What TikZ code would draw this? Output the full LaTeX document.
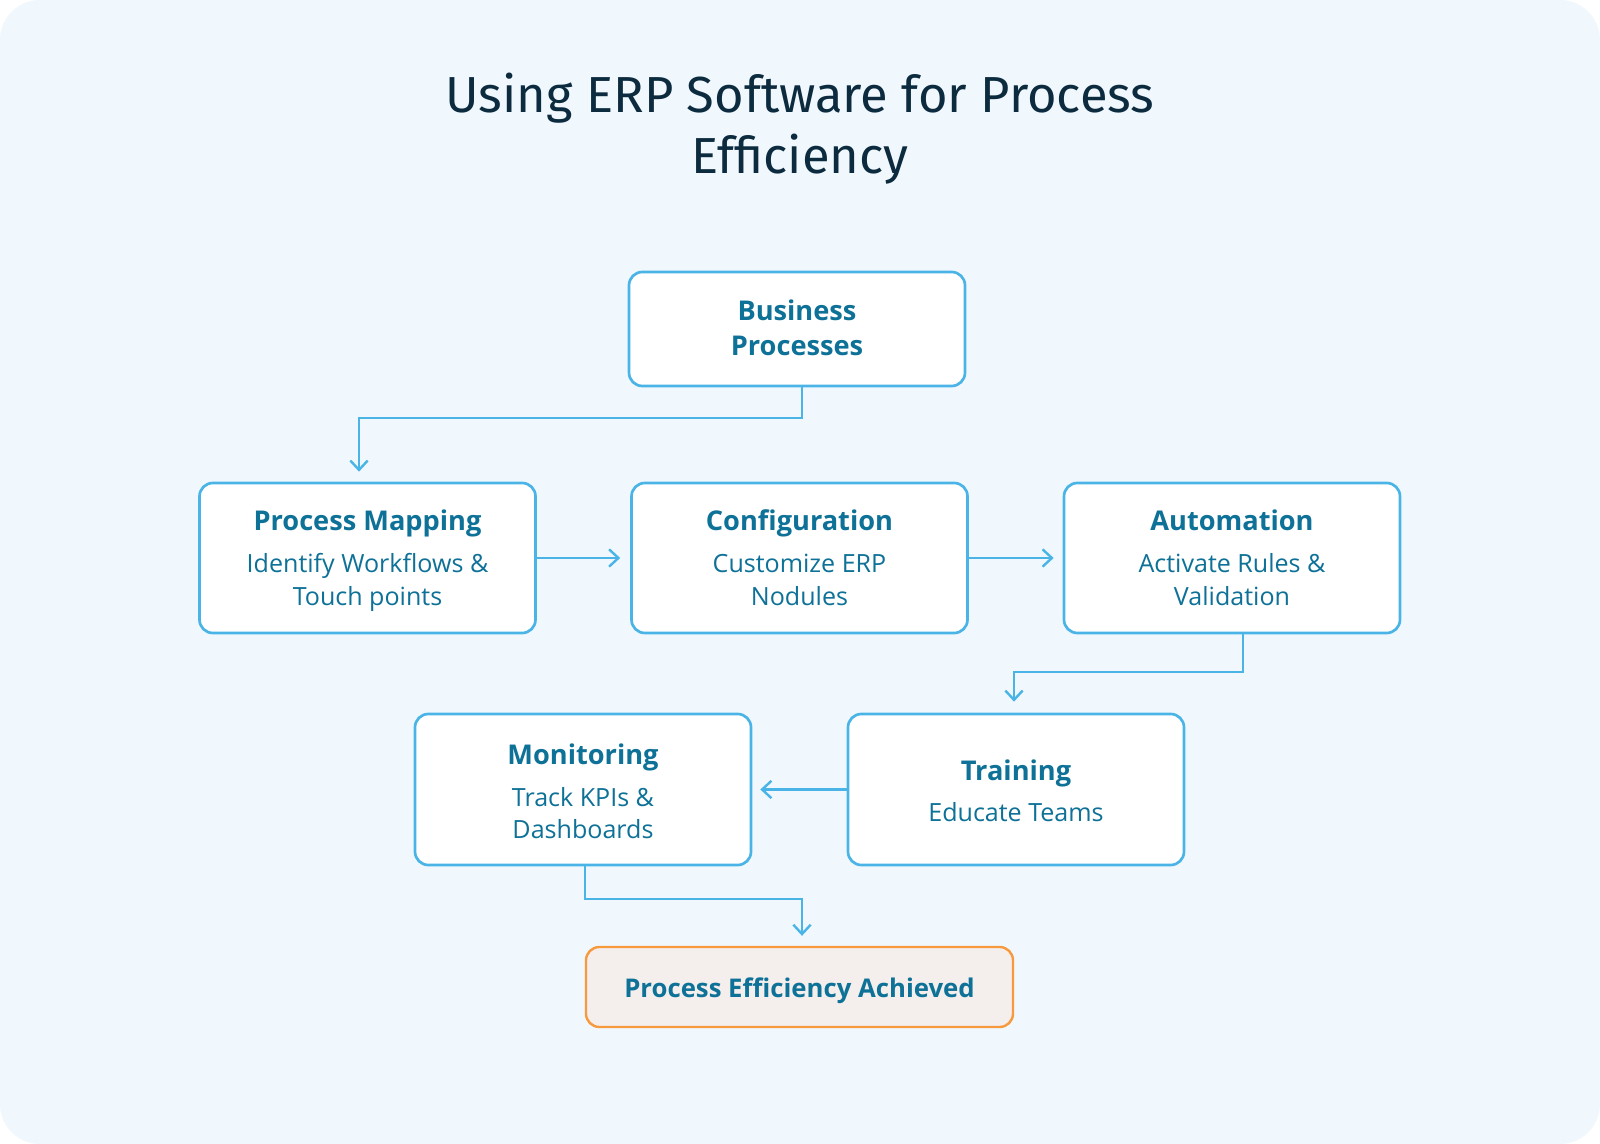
\documentclass[tikz,border=0pt]{standalone}
\usepackage{fontspec}
\setmainfont{Open Sans}
\newfontfamily\titlefont{Fira Sans}
\usetikzlibrary{arrows.meta}
\definecolor{bgc}{HTML}{F0F8FE}
\definecolor{titc}{HTML}{0D2B3E}
\definecolor{txtc}{HTML}{0E7197}
\definecolor{linec}{HTML}{4BB4E6}
\definecolor{finfill}{HTML}{F4EEEC}
\definecolor{finline}{HTML}{F79A3E}
\tikzset{
  boxshape/.style={draw=linec, line width=2pt, fill=white, rounded corners=10pt},
  finshape/.style={draw=finline, line width=1.8pt, fill=finfill, rounded corners=10pt},
  headtxt/.style={text=txtc, font=\fontsize{20.4}{24}\selectfont\bfseries, anchor=base, inner sep=0pt},
  bodytxt/.style={text=txtc, font=\fontsize{18.8}{23}\selectfont, anchor=base, inner sep=0pt},
  conn/.style={draw=linec, line width=1.8pt, -{Straight Barb[length=7pt,width=13pt,line width=1.8pt]}},
}
\begin{document}
\begin{tikzpicture}[x=0.75pt,y=-0.75pt]
\useasboundingbox (0,0) rectangle (1600,1144);
\fill[white] (0,0) rectangle (1600,1144);
\fill[bgc, rounded corners=30pt] (0,0) rectangle (1600,1144);
% title
\node[text=titc, font=\titlefont\fontsize{38}{46}\selectfont, anchor=base, inner sep=0pt] (t1) at (800,113) {Using ERP Software for Process};
\node[text=titc, font=\titlefont\fontsize{38}{46}\selectfont, anchor=base, inner sep=0pt] (t2) at (800,174) {Efficiency};
% boxes
\node[boxshape, minimum width=336pt*0.75, minimum height=114pt*0.75] (bp) at (797,329) {};
\node[boxshape, minimum width=336pt*0.75, minimum height=150pt*0.75] (pm) at (367.5,558) {};
\node[boxshape, minimum width=336pt*0.75, minimum height=150pt*0.75] (cf) at (799.5,558) {};
\node[boxshape, minimum width=336pt*0.75, minimum height=150pt*0.75] (au) at (1232,558) {};
\node[boxshape, minimum width=336pt*0.75, minimum height=151pt*0.75] (mo) at (583,789.5) {};
\node[boxshape, minimum width=336pt*0.75, minimum height=151pt*0.75] (tr) at (1016,789.5) {};
\node[finshape, minimum width=427pt*0.75, minimum height=80pt*0.75] (fin) at (799.5,987) {};
% texts
\node[headtxt] (bp1) at (797,321) {Business};
\node[headtxt] (bp2) at (797,356) {Processes};
\node[headtxt] (pm1) at (367.5,531) {Process Mapping};
\node[bodytxt] (pm2) at (367.5,573) {Identify Workflows \&};
\node[bodytxt] (pm3) at (367.5,605) {Touch points};
\node[headtxt] (cf1) at (799.5,531) {Configuration};
\node[bodytxt] (cf2) at (799.5,573) {Customize ERP};
\node[bodytxt] (cf3) at (799.5,605) {Nodules};
\node[headtxt] (au1) at (1232,531) {Automation};
\node[bodytxt] (au2) at (1232,573) {Activate Rules \&};
\node[bodytxt] (au3) at (1232,605) {Validation};
\node[headtxt] (mo1) at (583,764) {Monitoring};
\node[bodytxt] (mo2) at (583,806) {Track KPIs \&};
\node[bodytxt] (mo3) at (583,838) {Dashboards};
\node[headtxt] (tr1) at (1016,780) {Training};
\node[bodytxt] (tr2) at (1016,821) {Educate Teams};
\node[headtxt, font=\fontsize{19.3}{24}\selectfont\bfseries] (fin1) at (799.5,997) {Process Efficiency Achieved};
% connectors
\coordinate (c1) at (802,418);
\coordinate (c2) at (359,418);
\draw[conn] (bp.south -| c1) -- (c1) -- (c2) -- ([yshift=10*0.75pt]pm.north -| c2);
\draw[conn] (pm.east) -- ([xshift=-10*0.75pt]cf.west);
\draw[conn] (cf.east) -- ([xshift=-9*0.75pt]au.west);
\coordinate (c3) at (1243,672);
\coordinate (c4) at (1014,672);
\draw[conn] (au.south -| c3) -- (c3) -- (c4) -- ([yshift=11*0.75pt]tr.north -| c4);
\draw[conn] (tr.west) -- ([xshift=8*0.75pt]mo.east);
\coordinate (c5) at (585,899);
\coordinate (c6) at (802,899);
\draw[conn] (mo.south -| c5) -- (c5) -- (c6) -- ([yshift=10*0.75pt]fin.north -| c6);
\end{tikzpicture}
\end{document}
